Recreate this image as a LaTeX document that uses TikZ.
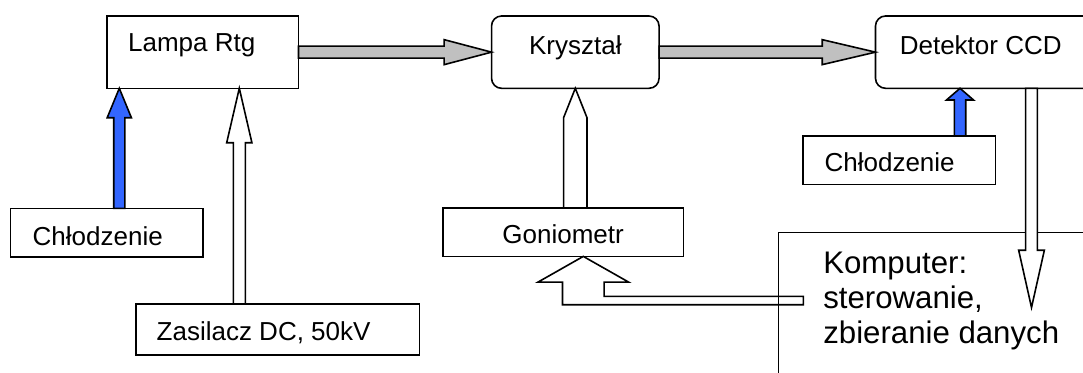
\documentclass[tikz,border=0pt]{standalone}
\usepackage{fontspec}
\setmainfont{Liberation Sans}
\usetikzlibrary{calc}
\definecolor{arrowblue}{RGB}{51,102,255}
\definecolor{arrowgray}{RGB}{192,192,192}
\newcommand\blockarrow[6]{% #1 style, #2 start, #3 end, #4 shaft half width, #5 head half width, #6 head length
  \coordinate (ba-H) at ($(#3)!#6!(#2)$);
  \draw[#1] ($(#2)!#4!90:(#3)$) -- ($(ba-H)!#4!90:(#3)$) -- ($(ba-H)!#5!90:(#3)$) -- (#3)
    -- ($(ba-H)!#5!-90:(#3)$) -- ($(ba-H)!#4!-90:(#3)$) -- ($(#2)!#4!-90:(#3)$) -- cycle;}
\tikzset{
  box/.style={draw, line width=1.6pt, fill=white, inner sep=0pt, outer sep=0pt},
  rbox/.style={box, rounded corners=10pt},
  txt/.style={inner sep=0pt, outer sep=0pt, font=\fontsize{26}{31}\selectfont},
  bigtxt/.style={inner sep=0pt, outer sep=0pt, align=left, font=\fontsize{31.2}{35}\selectfont},
  grayarrow/.style={draw, line width=1.6pt, line join=miter, fill=arrowgray},
  bluearrow/.style={draw, line width=1.6pt, line join=miter, fill=arrowblue},
  whitearrow/.style={draw, line width=1.6pt, line join=miter, fill=white},
}
\begin{document}
\begin{tikzpicture}[x=1pt,y=-1pt]
\useasboundingbox (0,0) rectangle (1083,372);
\clip (0,0) rectangle (1083,372);
\fill[white] (0,0) rectangle (1083,372);

% boxes
\node[box, minimum width=191.8pt, minimum height=72.3pt] (lampa) at (202.6,52.15) {};
\node[rbox, minimum width=167.5pt, minimum height=72.3pt] (kryszt) at (575.3,52.15) {};
\node[rbox, minimum width=260pt, minimum height=72.3pt] (det) at (1005.5,52.15) {};
\node[box, minimum width=192.9pt, minimum height=48.4pt] (chl1) at (106.75,232.5) {};
\node[box, minimum width=283.4pt, minimum height=51pt] (zas) at (277.7,329.5) {};
\node[box, minimum width=240.8pt, minimum height=48.6pt] (gonio) at (563.1,232.1) {};
\node[box, minimum width=192.1pt, minimum height=48.3pt] (chl2) at (899.25,160.15) {};

% texts
\node[txt, anchor=base west] (tlampa) at ($(lampa.north west)+(21.4,35.7)$) {Lampa Rtg};
\node[txt, anchor=base] (tkryszt) at ($(kryszt.north)+(0,38)$) {Kryształ};
\node[txt, anchor=base west] (tdet) at ($(det.north west)+(24.3,38)$) {Detektor CCD};
\node[txt, anchor=base west] (tchl1) at ($(chl1.north west)+(22.4,36.7)$) {Chłodzenie};
\node[txt, anchor=base west] (tzas) at ($(zas.north west)+(20.7,36.7)$) {Zasilacz DC, 50kV};
\node[txt, anchor=base] (tgonio) at ($(gonio.north)+(0,35.6)$) {Goniometr};
\node[txt, anchor=base west] (tchl2) at ($(chl2.north west)+(21.4,35.7)$) {Chłodzenie};

% gray beam arrows
\blockarrow{grayarrow}{lampa.east}{kryszt.west}{6pt}{12.5pt}{47.4pt}
\blockarrow{grayarrow}{kryszt.east}{det.west}{6pt}{12.5pt}{53.3pt}

% cooling of the lamp
\coordinate (b1e) at ($(lampa.south west)+(12.6,0)$);
\coordinate (b1s) at (b1e |- chl1.north);
\blockarrow{bluearrow}{b1s}{b1e}{5.6pt}{12.1pt}{29.4pt}

% power supply
\coordinate (w1e) at ($(lampa.south west)+(132.6,0)$);
\coordinate (w1s) at (w1e |- zas.north);
\blockarrow{whitearrow}{w1s}{w1e}{6pt}{12.6pt}{54.4pt}

% goniometer to crystal
\coordinate (g1e) at (kryszt.south);
\coordinate (g1s) at (g1e |- gonio.north);
\blockarrow{whitearrow}{g1s}{g1e}{11.7pt}{11.7pt}{29.4pt}

% cooling of the detector
\coordinate (b2e) at ($(det.south west)+(84.5,0)$);
\coordinate (b2s) at (b2e |- chl2.north);
\blockarrow{bluearrow}{b2s}{b2e}{5.7pt}{13.5pt}{11.7pt}

% computer box
\node[draw, line width=1.6pt, inner sep=0pt, outer sep=0pt, minimum width=400pt, minimum height=200pt] (komp) at (978.5,332.5) {};

% control arrow from computer to goniometer
\coordinate (gtip) at ($(gonio.south)+(20.2,0)$);
\coordinate (gt) at ($(gtip)+(0,40)$);
\coordinate (gb) at ($(gtip)+(0,48.3)$);
\coordinate (gend) at ($(komp.north west)+(24.8,0)$);
\draw[whitearrow] (gend |- gt) -- ($(gt)+(20.8,0)$) -- ($(gtip)+(20.8,25.7)$) -- ($(gtip)+(45.3,25.7)$) -- (gtip)
  -- ($(gtip)+(-45.3,25.7)$) -- ($(gtip)+(-20.8,25.7)$) -- ($(gb)+(-20.8,0)$) -- (gend |- gb) -- cycle;
% computer outline drawn over the bar
\draw[line width=1.6pt] (komp.south west) -- (komp.north west) -- (komp.north east);

\node[bigtxt, anchor=base west] (tkomp) at ($(komp.north west)+(44.8,110.8)$) {Komputer:\\sterowanie,\\zbieranie danych};

% data from detector to computer
\coordinate (d1s) at ($(det.south west)+(156,0)$);
\coordinate (d1e) at ($(d1s |- komp.north)+(0,75)$);
\blockarrow{whitearrow}{d1s}{d1e}{5.85pt}{12.85pt}{57.3pt}
\end{tikzpicture}
\end{document}
